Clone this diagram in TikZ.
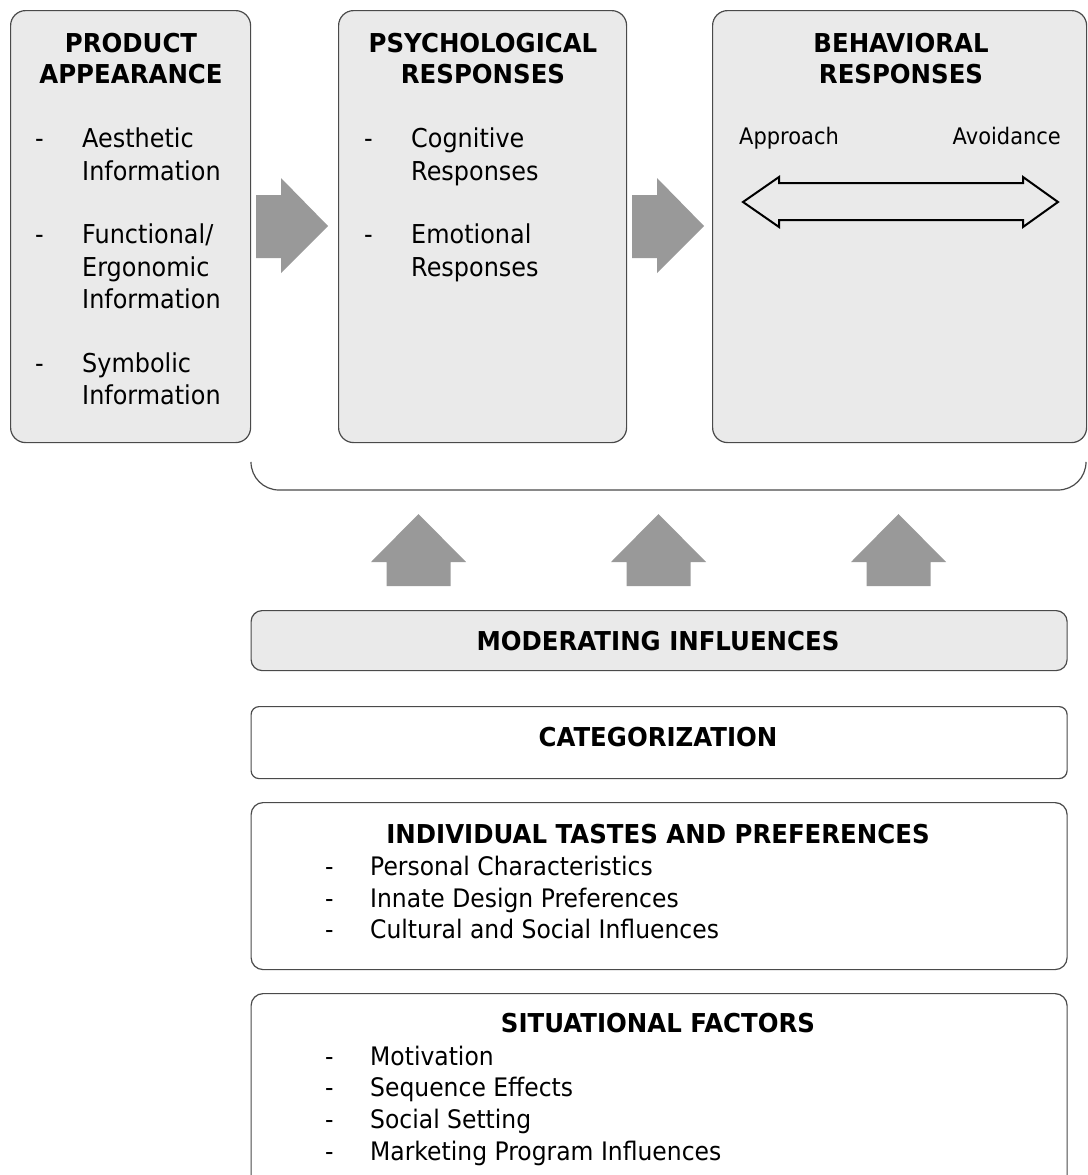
\documentclass[tikz,border=0pt]{standalone}
\usepackage{fontspec}
\setmainfont{DejaVu Sans}[FakeStretch=0.92,BoldFeatures={FakeStretch=0.94}]
\begin{document}
\begin{tikzpicture}[x=1pt,y=-1pt,
  panel/.style={draw=edge,fill=panelfill,line width=1.2pt,rounded corners=15pt,
    anchor=north west,inner sep=0pt},
  strip/.style={draw=edge,line width=1.2pt,rounded corners=11pt,
    anchor=north west,inner sep=0pt},
  ttl/.style={anchor=base,inner sep=0pt,font=\fontsize{26}{31}\selectfont\bfseries},
  itm/.style={anchor=base west,inner sep=0pt,font=\fontsize{26}{32}\selectfont},
  sitm/.style={anchor=base west,inner sep=0pt,font=\fontsize{25.5}{31}\selectfont},
  blockarrow/.style={fill=arrowgray,draw=none}]
\definecolor{edge}{HTML}{4A4A4A}
\definecolor{panelfill}{HTML}{EAEAEA}
\definecolor{arrowgray}{HTML}{999999}
\useasboundingbox (0,0) rectangle (1087,1175);
\clip (0,0) rectangle (1087,1175);

% bracket that gathers the three upper panels
\draw[edge,line width=1.2pt,rounded corners=28pt] (251,463) -- (251,490) -- (1086,490) -- (1086,463);

% upper panels
\node (pa) [panel,minimum width=240pt,minimum height=432pt] at (10,10) {};
\node (pr) [panel,minimum width=288pt,minimum height=432pt] at (338,10) {};
\node (br) [panel,minimum width=374pt,minimum height=432pt] at (712,10) {};

% product appearance
\node (paT1) [ttl] at (131,52) {PRODUCT};
\node (paT2) [ttl] at (131,83) {APPEARANCE};
\node (paD1) [itm] at (35,147) {-};
\node (paA1) [itm] at (82,147) {Aesthetic};
\node (paA2) [itm] at (82,180) {Information};
\node (paD2) [itm] at (35,243) {-};
\node (paB1) [itm] at (82,243) {Functional/};
\node (paB2) [itm] at (82,276) {Ergonomic};
\node (paB3) [itm] at (82,308) {Information};
\node (paD3) [itm] at (35,372) {-};
\node (paC1) [itm] at (82,372) {Symbolic};
\node (paC2) [itm] at (82,404) {Information};

% psychological responses
\node (prT1) [ttl] at (483,52) {PSYCHOLOGICAL};
\node (prT2) [ttl] at (483,83) {RESPONSES};
\node (prD1) [itm] at (364,147) {-};
\node (prA1) [itm] at (411,147) {Cognitive};
\node (prA2) [itm] at (411,180) {Responses};
\node (prD2) [itm] at (364,243) {-};
\node (prB1) [itm] at (411,243) {Emotional};
\node (prB2) [itm] at (411,276) {Responses};

% behavioral responses
\node (brT1) [ttl] at (901,52) {BEHAVIORAL};
\node (brT2) [ttl] at (901,83) {RESPONSES};
\node (brL) [anchor=base west,inner sep=0pt,font=\fontsize{22.8}{27}\selectfont] at (739,144) {Approach};
\node (brR) [anchor=base east,inner sep=0pt,font=\fontsize{22.8}{27}\selectfont] at (1061,144) {Avoidance};
\draw[black,line width=2pt,miter limit=10]
  (743,202) -- (779,177) -- (779,183) -- (1023,183) -- (1023,177) -- (1058,202)
  -- (1023,227) -- (1023,220) -- (779,220) -- (779,227) -- cycle;

% arrows between the upper panels
\fill[blockarrow] (256,195) -- (281,195) -- (281,178) -- (328,226) -- (281,273) -- (281,258) -- (256,258) -- cycle;
\fill[blockarrow] (632,195) -- (657,195) -- (657,178) -- (704,226) -- (657,273) -- (657,258) -- (632,258) -- cycle;

% upward arrows from the moderating influences
\foreach \cx in {418.5,658.5,898.5}{
  \fill[blockarrow] (\cx-32,586) -- (\cx-32,562) -- (\cx-47.5,562) -- (\cx,514)
    -- (\cx+47.5,562) -- (\cx+32,562) -- (\cx+32,586) -- cycle;
}

% lower strips
\node (mi) [strip,fill=panelfill,minimum width=816pt,minimum height=60pt] at (250.5,610) {};
\node (miT) [ttl] at (658,650) {MODERATING INFLUENCES};

\node (ca) [strip,rounded corners=8pt,fill=white,minimum width=816pt,minimum height=72pt] at (250.5,706) {};
\node (caT) [ttl] at (658,746) {CATEGORIZATION};

\node (it) [strip,rounded corners=12pt,fill=white,minimum width=816pt,minimum height=167pt] at (250.5,802) {};
\node (itT) [ttl] at (658,843) {INDIVIDUAL TASTES AND PREFERENCES};
\node (itD1) [sitm] at (325,875) {-};
\node (itA) [sitm] at (370,875) {Personal Characteristics};
\node (itD2) [sitm] at (325,907) {-};
\node (itB) [sitm] at (370,907) {Innate Design Preferences};
\node (itD3) [sitm] at (325,938) {-};
\node (itC) [sitm] at (370,938) {Cultural and Social Influences};

\node (sf) [strip,rounded corners=12pt,fill=white,minimum width=816pt,minimum height=200pt] at (250.5,993) {};
\node (sfT) [ttl] at (658,1032) {SITUATIONAL FACTORS};
\node (sfD1) [sitm] at (325,1065) {-};
\node (sfA) [sitm] at (370,1065) {Motivation};
\node (sfD2) [sitm] at (325,1096) {-};
\node (sfB) [sitm] at (370,1096) {Sequence Effects};
\node (sfD3) [sitm] at (325,1128) {-};
\node (sfC) [sitm] at (370,1128) {Social Setting};
\node (sfD4) [sitm] at (325,1160) {-};
\node (sfE) [sitm] at (370,1160) {Marketing Program Influences};
\end{tikzpicture}
\end{document}
